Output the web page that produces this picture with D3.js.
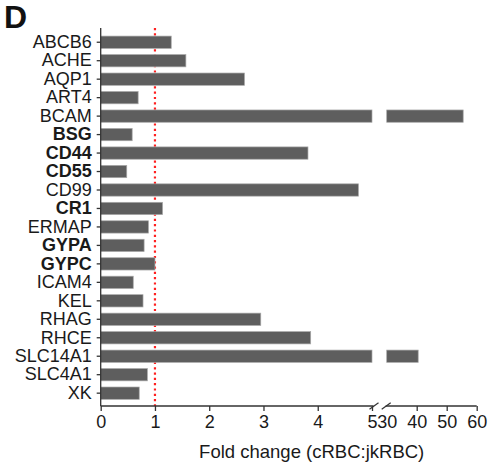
<!DOCTYPE html>
<html>
<head>
<meta charset="utf-8">
<script src="https://cdn.jsdelivr.net/npm/d3@7"></script>
<style>
  body { margin: 0; background: #fff; }
  svg { display: block; font-family: "Liberation Sans", Arial, sans-serif; }
</style>
</head>
<body>
<div id="chart"></div>
<script>
// data
const genes = ["ABCB6", "ACHE", "AQP1", "ART4", "BCAM", "BSG", "CD44", "CD55", "CD99", "CR1",
  "ERMAP", "GYPA", "GYPC", "ICAM4", "KEL", "RHAG", "RHCE", "SLC14A1", "SLC4A1", "XK"];
const foldChange = [1.30, 1.57, 2.65, 0.69, 55.5, 0.58, 3.82, 0.48, 4.75, 1.14,
  0.88, 0.80, 1.00, 0.60, 0.78, 2.95, 3.87, 40.5, 0.86, 0.71];
const boldGenes = ["BSG", "CD44", "CD55", "CR1", "GYPA", "GYPC"];
const ticksLow = [0, 1, 2, 3, 4, 5];
const ticksHigh = [30, 40, 50, 60];

const W = 490, H = 467;
const axisTop = 28, axisBottom = 406;

const svg = d3.select("#chart").append("svg")
  .attr("width", W).attr("height", H);

// broken x axis: 0-5 then 30-60
const xLow = d3.scaleLinear().domain([0, 5]).range([100.7, 372]);
const xHigh = d3.scaleLinear().domain([30, 60]).range([386.7, 476.7]);

const y = d3.scaleBand().domain(genes)
  .range([33, 402.4])
  .paddingInner(0.334)
  .paddingOuter(0.167);

const data = genes.map((g, i) => ({ gene: g, value: foldChange[i] }));

// reference line at 1
svg.append("line")
  .attr("x1", xLow(1)).attr("x2", xLow(1))
  .attr("y1", axisTop).attr("y2", axisBottom)
  .attr("stroke", "#ff2020")
  .attr("stroke-width", 2.2)
  .attr("stroke-dasharray", "2.2,3.1");

const bars = svg.append("g");

bars.selectAll("rect.low")
  .data(data)
  .enter().append("rect")
  .attr("class", "low")
  .attr("x", xLow(0))
  .attr("y", d => y(d.gene))
  .attr("width", d => xLow(Math.min(d.value, 5)) - xLow(0))
  .attr("height", y.bandwidth())
  .attr("fill", "#5e5e5e")
  .attr("stroke", "#a8a8a8")
  .attr("stroke-width", 0.7);

bars.selectAll("rect.high")
  .data(data.filter(d => d.value > 5))
  .enter().append("rect")
  .attr("class", "high")
  .attr("x", xHigh(30))
  .attr("y", d => y(d.gene))
  .attr("width", d => xHigh(d.value) - xHigh(30))
  .attr("height", y.bandwidth())
  .attr("fill", "#5e5e5e")
  .attr("stroke", "#a8a8a8")
  .attr("stroke-width", 0.7);

// y axis
const yAxis = svg.append("g")
  .attr("transform", `translate(${xLow(0)},0)`)
  .call(d3.axisLeft(y).tickSize(4).tickSizeOuter(0).tickPadding(5));
yAxis.select(".domain").remove();
yAxis.append("line")
  .attr("x1", 0).attr("x2", 0)
  .attr("y1", axisTop).attr("y2", axisBottom)
  .attr("stroke", "#333").attr("stroke-width", 1.3);
yAxis.selectAll(".tick line").attr("stroke", "#333").attr("stroke-width", 1.3);
yAxis.selectAll(".tick text")
  .attr("fill", "#1a1a1a")
  .style("font-size", "18px")
  .style("font-weight", d => boldGenes.includes(d) ? "bold" : "normal");

// x axis, two pieces
function styleX(g) {
  g.select(".domain").remove();
  g.selectAll(".tick line").attr("stroke", "#333").attr("stroke-width", 1.3);
  g.selectAll(".tick text")
    .attr("fill", "#1a1a1a")
    .attr("dy", "0.71em")
    .style("font-size", "18px");
}

const xAxisLow = svg.append("g")
  .attr("transform", `translate(0,${axisBottom})`)
  .call(d3.axisBottom(xLow).tickValues(ticksLow).tickFormat(d3.format("d"))
    .tickSize(5).tickSizeOuter(0).tickPadding(4));
styleX(xAxisLow);
xAxisLow.append("line")
  .attr("x1", xLow(0)).attr("x2", xLow(5) + 1.5)
  .attr("stroke", "#333").attr("stroke-width", 1.3);

const xAxisHigh = svg.append("g")
  .attr("transform", `translate(0,${axisBottom})`)
  .call(d3.axisBottom(xHigh).tickValues(ticksHigh).tickFormat(d3.format("d"))
    .tickSize(5).tickSizeOuter(0).tickPadding(4));
styleX(xAxisHigh);
xAxisHigh.select(".tick").select("line").remove();
xAxisHigh.append("line")
  .attr("x1", xHigh(30) - 1).attr("x2", xHigh(60))
  .attr("stroke", "#333").attr("stroke-width", 1.3);

// break slashes
[xLow(5) + 2, xHigh(30) - 0.5].forEach(cx => {
  svg.append("line")
    .attr("x1", cx - 4.5).attr("y1", axisBottom + 3.3)
    .attr("x2", cx + 4.5).attr("y2", axisBottom - 3.3)
    .attr("stroke", "#333").attr("stroke-width", 1.2);
});

// axis title
svg.append("text")
  .attr("x", (xLow(0) + xHigh(60)) / 2 + 23)
  .attr("y", 458)
  .attr("text-anchor", "middle")
  .attr("fill", "#1a1a1a")
  .style("font-size", "18.5px")
  .text("Fold change (cRBC:jkRBC)");

// panel letter
svg.append("text")
  .attr("x", 4).attr("y", 27.7)
  .attr("fill", "#111")
  .style("font-size", "32px")
  .style("font-weight", "bold")
  .text("D");
</script>
</body>
</html>
